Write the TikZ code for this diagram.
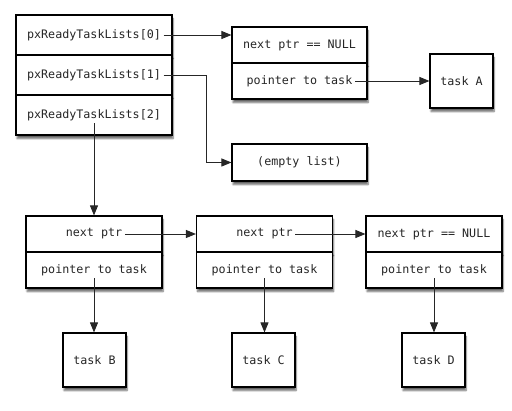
\documentclass[tikz,border=0pt]{standalone}
\usepackage{fontspec}
\setmonofont{DejaVu Sans Mono}
\usetikzlibrary{arrows.meta,shadows.blur}
\begin{document}
\begin{tikzpicture}[x=1pt,y=-1pt,
  cell/.style={draw=black,line width=1.1pt,fill=white,minimum width=#1,inner sep=0pt,
     blur shadow={shadow xshift=1pt,shadow yshift=-3.5pt,shadow blur steps=6,shadow opacity=60}},
  lbl/.style={font=\ttfamily\fontsize{11.7}{13}\selectfont,text=black!85,inner sep=2.5pt},
  arr/.style={draw=black!85,line width=0.9pt,-{Triangle[length=10pt,width=8pt]}}]
\useasboundingbox (0,0) rectangle (512,411);
% ready lists
\node[cell=156pt,minimum height=40pt] (r0) at (94,35) {};
\node[cell=156pt,minimum height=40pt] (r1) at (94,75) {};
\node[cell=156pt,minimum height=40pt] (r2) at (94,115) {};
\node[lbl] (t0) at (94,35) {pxReadyTaskLists[0]};
\node[lbl] (t1) at (94,75) {pxReadyTaskLists[1]};
\node[lbl] (t2) at (94,115) {pxReadyTaskLists[2]};
% list 0
\node[cell=135pt,minimum height=36pt] (a0) at (299.5,45) {};
\node[cell=135pt,minimum height=36pt] (a1) at (299.5,81) {};
\node[lbl] (at0) at (299.5,45) {next ptr == NULL};
\node[lbl] (at1) at (299.5,81) {pointer to task};
\node[cell=63pt,minimum height=54pt] (tA) at (461.5,81) {};
\node[lbl] at (tA) {task A};
% empty list
\node[cell=135pt,minimum height=37pt] (E) at (299.5,162.5) {};
\node[lbl] at (E) {(empty list)};
% list 2
\foreach \n/\x/\t in {b/94/next ptr,c/264.5/next ptr,d/434/next ptr == NULL}{
  \node[cell=136pt,minimum height=36pt] (\n0) at (\x,234) {};
  \node[cell=136pt,minimum height=36pt] (\n1) at (\x,270) {};
  \node[lbl] (\n t0) at (\x,234) {\t};
  \node[lbl] (\n t1) at (\x,270) {pointer to task};
}
\node[cell=63pt,minimum height=54pt] (tB) at (94.5,360) {};
\node[lbl] at (tB) {task B};
\node[cell=63pt,minimum height=54pt] (tC) at (263.5,360) {};
\node[lbl] at (tC) {task C};
\node[cell=63pt,minimum height=54pt] (tD) at (433.5,360) {};
\node[lbl] at (tD) {task D};
% connectors
\coordinate (k1) at (206,75);
\draw[arr] (t0.east) -- (t0.east -| a0.west);
\draw[arr] (t1.east) -- (k1) |- (E.west);
\draw[arr] (t2.south) -- (t2.south |- b0.north);
\draw[arr] (at1.east) -- (at1.east -| tA.west);
\draw[arr] (bt0.east) -- (bt0.east -| c0.west);
\draw[arr] (ct0.east) -- (ct0.east -| d0.west);
\draw[arr] (bt1.south) -- (bt1.south |- tB.north);
\draw[arr] (ct1.south) -- (ct1.south |- tC.north);
\draw[arr] (dt1.south) -- (dt1.south |- tD.north);
\end{tikzpicture}
\end{document}
